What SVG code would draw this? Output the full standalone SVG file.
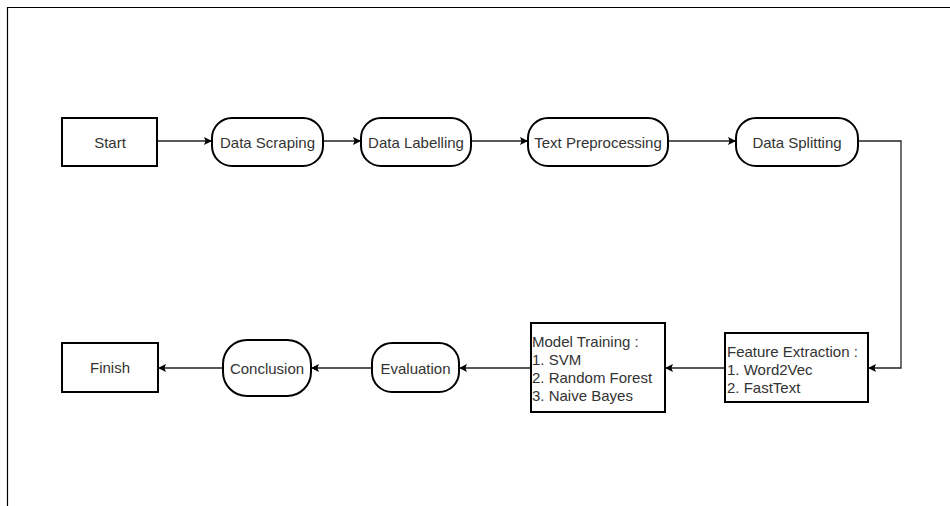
<svg xmlns="http://www.w3.org/2000/svg" width="950" height="506" viewBox="0 0 950 506">
<style>
.box{fill:#fff;stroke:#000;stroke-width:2}
.t{font-family:"Liberation Sans",Arial,sans-serif;font-size:15px;fill:#333}
.c{text-anchor:middle;dominant-baseline:central}
.conn{fill:none;stroke:#222;stroke-width:1.3;marker-end:url(#ah)}
</style>
<defs>
<marker id="ah" viewBox="0 0 10 10" refX="10" refY="5" markerWidth="8" markerHeight="8" markerUnits="userSpaceOnUse" orient="auto">
<path d="M0,0 L10,5 L0,10 L2,5 z" fill="#000"/>
</marker>
</defs>
<rect x="0" y="0" width="950" height="506" fill="#fff"/>
<path d="M7.5,506 V7.5 H950" fill="none" stroke="#000" stroke-width="1.2"/>
<g id="connectors">
<path class="conn" d="M157,141 H212"/>
<path class="conn" d="M323,141 H361"/>
<path class="conn" d="M471,141 H528"/>
<path class="conn" d="M668,141 H736"/>
<path class="conn" d="M858,141 H901 V368 H868"/>
<path class="conn" d="M725,368 H665"/>
<path class="conn" d="M531,368 H459"/>
<path class="conn" d="M372,368 H311"/>
<path class="conn" d="M223,368 H158"/>
</g>
<g id="start"><rect class="box" x="62" y="118" width="95" height="48"/><text class="t c" x="110" y="142">Start</text></g>
<g id="data-scraping"><rect class="box" x="212" y="118" width="111" height="48" rx="20" ry="20"/><text class="t c" x="267.5" y="142">Data Scraping</text></g>
<g id="data-labelling"><rect class="box" x="361" y="118" width="110" height="48" rx="20" ry="20"/><text class="t c" x="416" y="142">Data Labelling</text></g>
<g id="text-preprocessing"><rect class="box" x="528" y="118" width="140" height="48" rx="20" ry="20"/><text class="t c" x="598" y="142">Text Preprocessing</text></g>
<g id="data-splitting"><rect class="box" x="736" y="118" width="122" height="48" rx="20" ry="20"/><text class="t c" x="797" y="142">Data Splitting</text></g>
<g id="feature-extraction"><rect class="box" x="725" y="333" width="143" height="69"/>
<text class="t" x="727" y="357">Feature Extraction :</text>
<text class="t" x="727" y="375">1. Word2Vec</text>
<text class="t" x="727" y="393">2. FastText</text></g>
<g id="model-training"><rect class="box" x="531" y="323" width="134" height="89"/>
<text class="t" x="532" y="347">Model Training :</text>
<text class="t" x="532" y="365">1. SVM</text>
<text class="t" x="532" y="383">2. Random Forest</text>
<text class="t" x="532" y="401">3. Naive Bayes</text></g>
<g id="evaluation"><rect class="box" x="372" y="343" width="87" height="49" rx="20" ry="20"/><text class="t c" x="415.5" y="368">Evaluation</text></g>
<g id="conclusion"><rect class="box" x="223" y="340" width="88" height="56" rx="24" ry="24"/><text class="t c" x="267" y="368">Conclusion</text></g>
<g id="finish"><rect class="box" x="62" y="343" width="96" height="49"/><text class="t c" x="110" y="367">Finish</text></g>
</svg>
